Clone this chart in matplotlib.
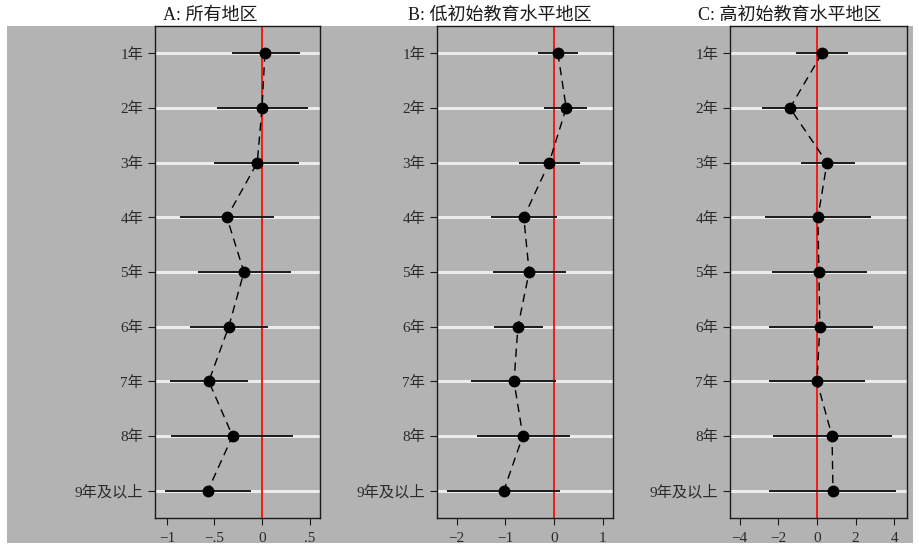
import matplotlib
matplotlib.use("Agg")
import matplotlib.pyplot as plt
from matplotlib.patches import Rectangle

# | Data |---------------------------------------------------------------------------------------------------------------|
categories = ["1年", "2年", "3年", "4年", "5年", "6年", "7年", "8年", "9年及以上"]

titles = ["A: 所有地区", "B: 低初始教育水平地区", "C: 高初始教育水平地区"]

a_coef = [0.03, 0.00, -0.05, -0.37, -0.19, -0.35, -0.56, -0.31, -0.57]
a_low  = [-0.32, -0.47, -0.50, -0.86, -0.67, -0.76, -0.97, -0.96, -1.02]
a_high = [0.40, 0.48, 0.39, 0.13, 0.30, 0.06, -0.15, 0.33, -0.12]

b_coef = [0.08, 0.25, -0.10, -0.62, -0.51, -0.74, -0.82, -0.64, -1.03]
b_low  = [-0.33, -0.20, -0.72, -1.30, -1.25, -1.23, -1.70, -1.58, -2.20]
b_high = [0.49, 0.68, 0.53, 0.06, 0.25, -0.23, 0.04, 0.33, 0.12]

c_coef = [0.26, -1.40, 0.52, 0.05, 0.10, 0.15, 0.00, 0.78, 0.83]
c_low  = [-1.10, -2.85, -0.83, -2.70, -2.33, -2.50, -2.50, -2.30, -2.50]
c_high = [1.60, 0.05, 1.97, 2.80, 2.60, 2.90, 2.50, 3.90, 4.10]

a_ticks = [-1, -0.5, 0, 0.5]
a_tick_labels = ["−1", "−.5", "0", ".5"]
b_ticks = [-2, -1, 0, 1]
b_tick_labels = ["−2", "−1", "0", "1"]
c_ticks = [-4, -2, 0, 2, 4]
c_tick_labels = ["−4", "−2", "0", "2", "4"]
# |--------------------------------------------------------------------------------------------------------------------|

W, H = 919, 552
GRAY = "#b3b3b3"
TXT = "#2b2b2b"

plt.rcParams["font.family"] = ["Liberation Serif", "Noto Sans CJK SC", "DejaVu Sans"]

fig = plt.figure(figsize=(W / 100, H / 100), dpi=100, facecolor="white")
# gray graph region behind the three panels
fig.patches.append(Rectangle((7 / W, (H - 543) / H), 906 / W, 517 / H,
                             transform=fig.transFigure, facecolor=GRAY, edgecolor="none", zorder=-10))

panels = [
    (a_coef, a_low, a_high, a_ticks, a_tick_labels, (155, 320), (-1.126, 0.61), 210),
    (b_coef, b_low, b_high, b_ticks, b_tick_labels, (437, 613), (-2.40, 1.21), 500),
    (c_coef, c_low, c_high, c_ticks, c_tick_labels, (730, 907), (-4.50, 4.66), 790),
]

top_px, bottom_px = 26, 518
ypos = list(range(1, len(categories) + 1))

for (coef, low, high, ticks, tlabels, (x0, x1), xlim, tx), title in zip(panels, titles):
    ax = fig.add_axes([x0 / W, (H - bottom_px) / H, (x1 - x0) / W, (bottom_px - top_px) / H])
    ax.set_facecolor(GRAY)
    ax.set_xlim(*xlim)
    ax.set_ylim(9.5, 0.5)

    for y in ypos:
        ax.axhline(y, color="#ececec", linewidth=2.2, zorder=1)
    ax.axvline(0, color="red", linewidth=1.2, zorder=2)

    ax.hlines(ypos, low, high, color="#1a1a1a", linewidth=1.4, zorder=3)
    ax.plot(coef, ypos, color="black", linewidth=1.0, linestyle=(0, (6, 4)), zorder=4)
    ax.plot(coef, ypos, "o", color="black", markersize=7.5, zorder=5)

    ax.set_yticks(ypos)
    ax.set_yticklabels(categories)
    ax.set_xticks(ticks)
    ax.set_xticklabels(tlabels)
    ax.tick_params(axis="both", colors="#1a1a1a", labelcolor=TXT, labelsize=11, length=5, width=0.8)
    ax.tick_params(axis="x", pad=5)
    for s in ax.spines.values():
        s.set_color("#1a1a1a")
        s.set_linewidth(1.0)

    fig.text(tx / W, (H - 15) / H, title, ha="center", va="center", fontsize=13, color="#1a1a1a")

fig.savefig("out.png", dpi=100, facecolor="white")
